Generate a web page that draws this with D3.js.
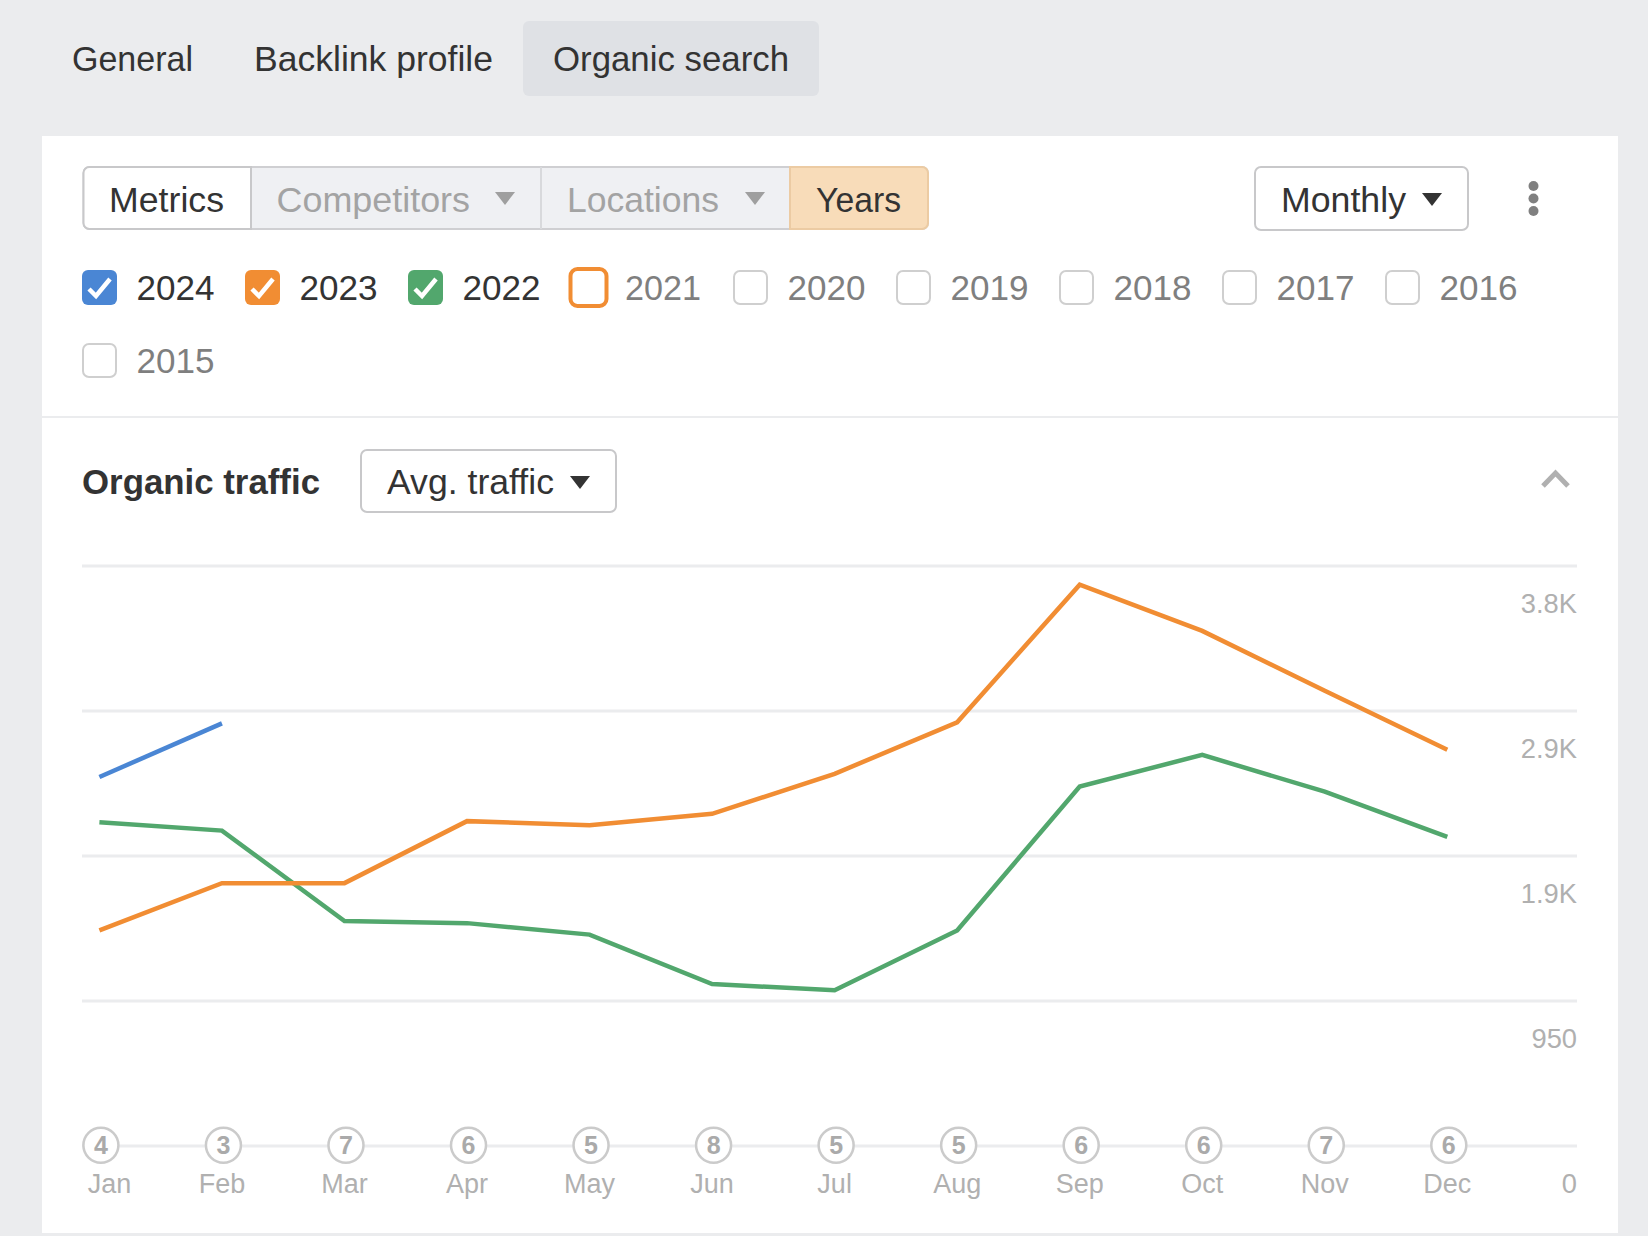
<!DOCTYPE html>
<html><head><meta charset="utf-8">
<script src="https://cdn.jsdelivr.net/npm/d3@7/dist/d3.min.js"></script>
<style>html,body{margin:0;padding:0;background:#ebecee}svg{display:block}text{font-family:"Liberation Sans",Arial,sans-serif}
.yaxis .domain,.xaxis .domain{display:none}</style></head><body>
<svg id="c" width="1648" height="1236"></svg>
<script>
const months=["Jan","Feb","Mar","Apr","May","Jun","Jul","Aug","Sep","Oct","Nov","Dec"];
const updates=[4,3,7,6,5,8,5,5,6,6,7,6];
const traffic2024=[2416,2767];
const traffic2023=[1411,1721,1721,2127,2100,2175,2437,2774,3676,3373,2981,2595];
const traffic2022=[2120,2065,1473,1459,1384,1060,1019,1411,2354,2561,2320,2024];
const yTicks=[0,950,1900,2850,3800];
const yLabels=["0","950","1.9K","2.9K","3.8K"];
const tabs=["General","Backlink profile","Organic search"];
const years=[2024,2023,2022,2021,2020,2019,2018,2017,2016,2015];

const svg=d3.select("#c");
const rect=(x,y,w,h,r,fill,stroke,sw)=>svg.append("rect").attr("x",x).attr("y",y).attr("width",w).attr("height",h).attr("rx",r).attr("fill",fill).attr("stroke",stroke||"none").attr("stroke-width",sw||0);
const text=(s,x,y,size,fill,weight,len)=>{
  const t=svg.append("text").attr("x",x).attr("y",y).attr("font-size",size).attr("fill",fill).attr("font-weight",weight||"normal").text(s);
  if(len) t.attr("textLength",len).attr("lengthAdjust","spacingAndGlyphs");
  return t;
};
const tri=(cx,cy,fill)=>svg.append("path").attr("d",`M${cx-10},${cy-6}L${cx+10},${cy-6}L${cx},${cy+7}Z`).attr("fill",fill);

// tabs
rect(523,21,296,75,6,"#dfe1e5");
const tabX=[72,254,553], tabW=[121,239,236];
tabs.forEach((s,i)=>text(s,tabX[i],70.5,34.5,"#333",null,tabW[i]));

// card
rect(42,136,1576,1097,0,"#fff");
rect(42,416,1576,2,0,"#ebecee");
rect(42,1233,1576,3,0,"#ebecee");

// button group
rect(83.5,167,844.5,62,6,"#eff0f3","#cfcfd2",2);
svg.append("path").attr("d","M251,167H89.5a6,6 0 0 0 -6,6V223a6,6 0 0 0 6,6H251Z").attr("fill","#fff").attr("stroke","#c8c8ca").attr("stroke-width",2);
svg.append("line").attr("x1",541).attr("x2",541).attr("y1",167).attr("y2",229).attr("stroke","#d8d9dc").attr("stroke-width",2);
svg.append("path").attr("d","M790,167H922a6,6 0 0 1 6,6V223a6,6 0 0 1 -6,6H790Z").attr("fill","#f8dcb9").attr("stroke","#eccba3").attr("stroke-width",2);
text("Metrics",109,211.5,34.5,"#333",null,115);
text("Competitors",276.5,211.5,34.5,"#a3a3a3",null,193.5);
tri(505,198,"#9f9f9f");
text("Locations",567,211.5,34.5,"#a3a3a3",null,152);
tri(755,198,"#9f9f9f");
text("Years",816,211.5,34.5,"#333",null,85);

// monthly
rect(1255,167,213,63,6,"#fff","#c8c8ca",2);
text("Monthly",1281,211.5,34.5,"#333",null,125);
tri(1432,199,"#333");
[186,198.5,211].forEach(y=>svg.append("circle").attr("cx",1533.5).attr("cy",y).attr("r",5).attr("fill","#808080"));

// year checkboxes
const boxX=[82,245,408,570.5,733,896,1059,1222,1385,82];
const boxFill=["#4a86d4","#f18d33","#52a76d"];
years.forEach((yr,i)=>{
  const x=boxX[i], y=i===9?343:270;
  if(i<3){
    rect(x,y,35,35,6,boxFill[i]);
    svg.append("path").attr("d",`M${x+7},${y+19}L${x+14},${y+26}L${x+28},${y+9}`).attr("fill","none").attr("stroke","#fff").attr("stroke-width",4.5);
  } else if(i===3){
    rect(x,y-1,36,37,7,"#fff","#f18d33",4);
  } else {
    rect(x+1,y+1,33,33,6,"#fff","#cfcfcf",2);
  }
  text(yr,(i===3?625:x+54.5),y+30,34.5,i<3?"#333":"#7f7f7f",null,i===3?76:78);
});

// organic traffic header
text("Organic traffic",82,493.5,34.5,"#333","bold",238);
rect(361,450,255,62,6,"#fff","#c8c8ca",2);
text("Avg. traffic",387,493.5,34.5,"#333",null,167);
tri(580,482,"#333");
svg.append("path").attr("d","M1543,486L1555.5,473L1568,486").attr("fill","none").attr("stroke","#b0b0b0").attr("stroke-width",5);

// chart
const x=d3.scalePoint().domain(months).range([100.4,1448.3]);
const y=d3.scaleLinear().domain([0,3800]).range([1145.6,565.4]);
const grid=svg.append("g").attr("class","yaxis").attr("transform","translate(1577,0)")
  .call(d3.axisRight(y).tickValues(yTicks).tickSize(-1495).tickFormat((d,i)=>yLabels[i]));
grid.selectAll("line").attr("stroke","#ebecee").attr("stroke-width",3);
grid.selectAll("text").attr("font-size",27.3).attr("fill","#b0b0b0").attr("text-anchor","end").attr("x",0).attr("dy",0).attr("y",47);

const line=d3.line().x(d=>x(d[0])).y(d=>y(d[1]));
const marks=svg.append("g").attr("transform","translate(-1,0.3)");
[[traffic2022,"#52a76d"],[traffic2023,"#f18d33"],[traffic2024,"#4a86d4"]].forEach(([s,c])=>{
  marks.append("path").attr("d",line(s.map((v,i)=>[months[i],v]))).attr("fill","none").attr("stroke",c).attr("stroke-width",4.5).attr("stroke-linejoin","miter");
});

// update markers
const mk=svg.append("g").selectAll("g").data(months).join("g").attr("transform",d=>`translate(${x(d)+0.5},${y(0)-0.4})`);
mk.append("circle").attr("r",17.5).attr("fill","#fff").attr("stroke","#cbcbcb").attr("stroke-width",2.5);
mk.append("text").attr("text-anchor","middle").attr("y",8.5).attr("font-size",25).attr("font-weight","bold").attr("fill","#aaa").text((d,i)=>updates[i]);

const xa=svg.append("g").attr("class","xaxis").attr("transform",`translate(-1.5,${y(0)})`)
  .call(d3.axisBottom(x).tickSize(0));
xa.selectAll("text").attr("font-size",27).attr("fill","#b0b0b0").attr("dy",0).attr("y",47);
xa.selectAll("text").filter(d=>d==="Jan").attr("x",10);
</script></body></html>
